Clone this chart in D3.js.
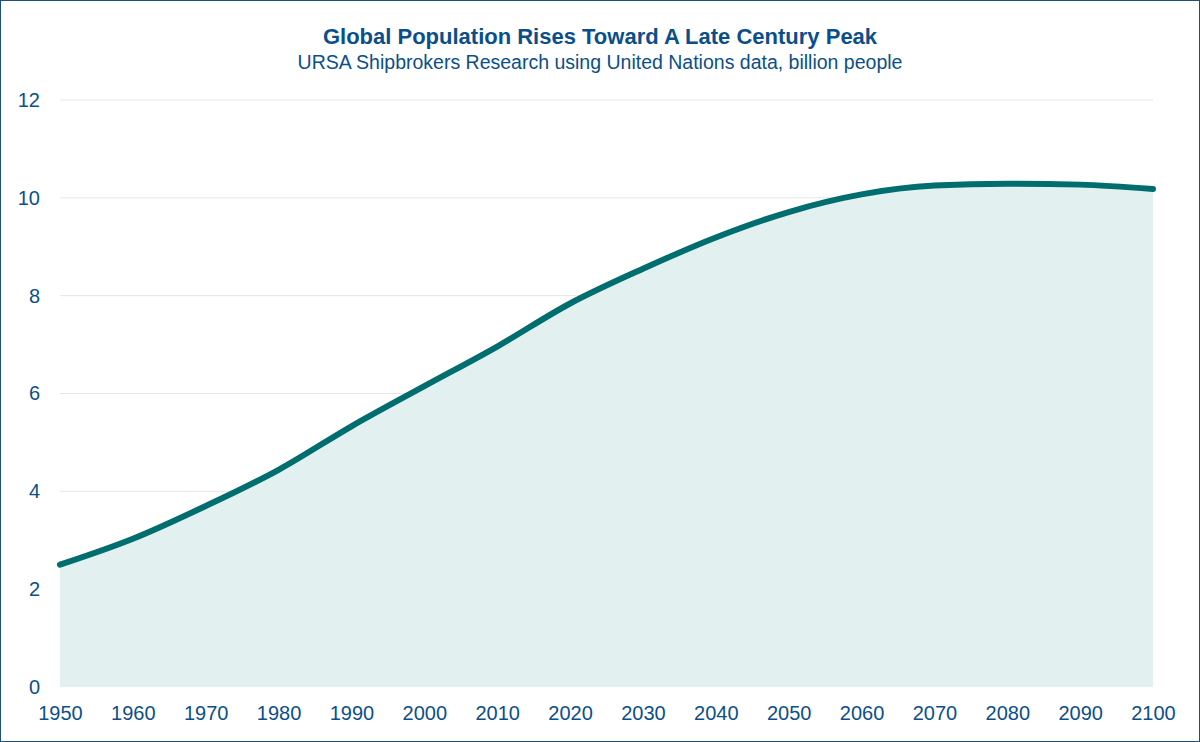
<!DOCTYPE html>
<html><head><meta charset="utf-8">
<script src="https://cdn.jsdelivr.net/npm/d3@7"></script>
<style>body{margin:0;background:#fff}svg{display:block}</style>
</head><body><svg id="c" width="1200" height="742"></svg>
<script>
const years=[1950,1960,1970,1980,1990,2000,2010,2020,2030,2040,2050,2060,2070,2080,2090,2100];
const population=[2.5,3.03,3.7,4.44,5.33,6.15,6.96,7.84,8.55,9.19,9.71,10.07,10.25,10.29,10.27,10.18];
const yTicks=[0,2,4,6,8,10,12];
const xTicks=years;
const title="Global Population Rises Toward A Late Century Peak";
const subtitle="URSA Shipbrokers Research using United Nations data, billion people";

const svg=d3.select("#c");
const blue="#0b4f8a", teal="#006d6f";
svg.append("rect").attr("x",0.5).attr("y",0.5).attr("width",1199).attr("height",741).attr("fill","#fff").attr("stroke","#1f4e79").attr("stroke-width",1);
const x=d3.scaleLinear().domain([1950,2100]).range([60,1153]);
const y=d3.scaleLinear().domain([0,12]).range([687,100]);
const font="Liberation Sans, Arial, sans-serif";
svg.append("text").attr("x",600).attr("y",44).attr("text-anchor","middle").attr("font-family",font).attr("font-weight","bold").attr("font-size",22).attr("fill",blue).text(title);
svg.append("text").attr("x",600).attr("y",69).attr("text-anchor","middle").attr("font-family",font).attr("font-size",19.5).attr("fill",blue).text(subtitle);
svg.append("g").selectAll("line").data(yTicks.filter(d=>d>0)).join("line")
 .attr("x1",60).attr("x2",1153).attr("y1",d=>y(d)).attr("y2",d=>y(d)).attr("stroke","#e6e6e6");
const data=years.map((t,i)=>[t,population[i]]);
svg.append("path").datum(data).attr("fill","#e3f0f0")
 .attr("d",d3.area().x(d=>x(d[0])).y0(y(0)).y1(d=>y(d[1])).curve(d3.curveMonotoneX));
svg.append("path").datum(data).attr("fill","none").attr("stroke",teal).attr("stroke-width",6).attr("stroke-linecap","round")
 .attr("d",d3.line().x(d=>x(d[0])).y(d=>y(d[1])).curve(d3.curveMonotoneX));
const ya=svg.append("g").attr("transform","translate(40,0)").call(d3.axisLeft(y).tickValues(yTicks).tickSize(0).tickPadding(0));
ya.select(".domain").remove();
ya.selectAll("text").attr("font-family",font).attr("font-size",20).attr("fill",blue);
const xa=svg.append("g").attr("transform","translate(0,687)").call(d3.axisBottom(x).tickValues(xTicks).tickFormat(d3.format("d")).tickSize(0).tickPadding(19));
xa.select(".domain").remove();
xa.selectAll("text").attr("font-family",font).attr("font-size",20).attr("fill",blue);
</script></body></html>
